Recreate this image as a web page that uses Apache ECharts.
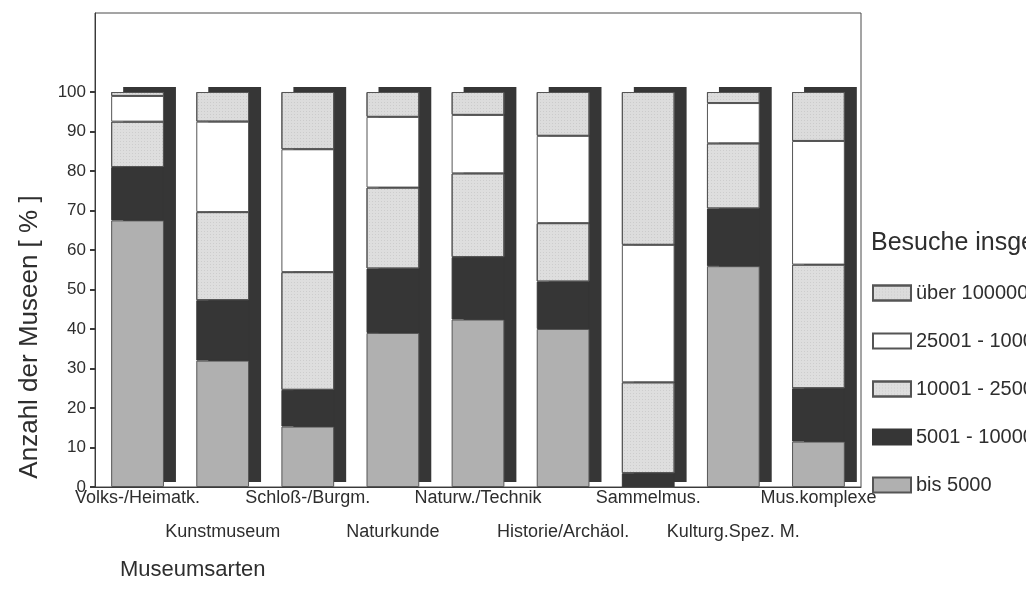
<!DOCTYPE html>
<html>
<head>
<meta charset="utf-8">
<script src="https://cdn.jsdelivr.net/npm/echarts@6/dist/echarts.min.js"></script>
<style>
  html, body { margin: 0; padding: 0; background: #fff; }
  #chart { width: 1026px; height: 605px; }
</style>
</head>
<body>
<div id="chart"></div>
<script>
// Museum types (x axis)
const categories = ['Volks-/Heimatk.', 'Kunstmuseum', 'Schloß-/Burgm.', 'Naturkunde', 'Naturw./Technik',
  'Historie/Archäol.', 'Sammelmus.', 'Kulturg.Spez. M.', 'Mus.komplexe'];

// Share of museums [%] per visitor class, bottom to top of each stack
const bis5000   = [67.5, 32.0, 15.3, 39.0, 42.4, 40.0,  0.0, 55.9, 11.5];
const v5001     = [13.5, 15.3,  9.3, 16.3, 15.8, 12.0,  3.5, 14.6, 13.5];
const v10001    = [11.5, 22.3, 29.8, 20.5, 21.2, 14.8, 23.0, 16.5, 31.3];
const v25001    = [ 6.5, 22.9, 31.1, 17.9, 14.8, 22.1, 34.8, 10.2, 31.3];
const ueber     = [ 1.0,  7.5, 14.5,  6.3,  5.8, 11.1, 38.7,  2.8, 12.4];

const seriesNames = ['bis 5000', '5001 - 10000', '10001 - 25000', '25001 - 100000', 'über 100000'];
const yTicks = [0, 10, 20, 30, 40, 50, 60, 70, 80, 90, 100];

// total height of each stack, used for the offset backdrop block
const totals = categories.map((_, i) => bis5000[i] + v5001[i] + v10001[i] + v25001[i] + ueber[i]);

const FONT = 'Liberation Sans, Arial, Helvetica, sans-serif';
const TXT = '#2e2e2e';
const EDGE = '#555555';
const DARK = '#363636';

// fine stipple used on the two light-grey classes
const stipple = {
  symbol: 'rect',
  symbolSize: 1,
  dashArrayX: [1, 2],
  dashArrayY: [1, 2],
  rotation: 0,
  color: 'rgba(90,90,90,0.13)'
};

const stackStyle = [
  { color: '#b0b0b0' },
  { color: DARK },
  { color: '#dedede', decal: stipple },
  { color: '#ffffff' },
  { color: '#dcdcdc', decal: stipple }
];
const segData = [bis5000, v5001, v10001, v25001, ueber];

const chart = echarts.init(document.getElementById('chart'), null, { renderer: 'canvas' });

const series = [{
  name: 'shadow',
  type: 'custom',
  z: 1,
  silent: true,
  data: totals.map((t, i) => [i, t]),
  renderItem: function (params, api) {
    const i = api.value(0);
    const base = api.coord([i, 0]);
    const top = api.coord([i, api.value(1)]);
    const w = api.size([1, 0])[0] * 0.62;
    const dx = 12, dy = -5;
    return {
      type: 'rect',
      shape: { x: base[0] - w / 2 + dx, y: top[1] + dy, width: w, height: base[1] - top[1] },
      style: { fill: DARK }
    };
  }
}];

segData.forEach((arr, k) => {
  const st = {
    color: stackStyle[k].color,
    borderColor: k === 1 ? DARK : EDGE,
    borderWidth: 1
  };
  if (stackStyle[k].decal) st.decal = stackStyle[k].decal;
  series.push({
    name: seriesNames[k],
    type: 'bar',
    stack: 'all',
    z: 3,
    barWidth: '62%',
    data: arr,
    itemStyle: st,
    emphasis: { disabled: true }
  });
});

chart.setOption({
  animation: false,
  backgroundColor: '#ffffff',
  textStyle: { fontFamily: FONT },
  title: [
    { text: 'Museumsarten', left: 115, top: 554,
      textStyle: { fontFamily: FONT, fontSize: 22, fontWeight: 'normal', color: TXT } },
    { text: 'Besuche insgesamt', left: 866, top: 226,
      textStyle: { fontFamily: FONT, fontSize: 25, fontWeight: 'normal', color: TXT } }
  ],
  graphic: [{
    type: 'text',
    x: 30,
    y: 337,
    rotation: Math.PI / 2,
    style: {
      text: 'Anzahl der Museen [ % ]',
      fontFamily: FONT,
      fontSize: 26,
      fill: TXT,
      align: 'center',
      verticalAlign: 'middle'
    }
  }],
  legend: {
    orient: 'vertical',
    left: 867,
    top: 278,
    itemWidth: 38,
    itemHeight: 15,
    itemGap: 28,
    icon: 'rect',
    data: seriesNames.slice().reverse(),
    textStyle: { fontFamily: FONT, fontSize: 20, color: TXT, lineHeight: 19 },
    selectedMode: false
  },
  grid: {
    left: 95, right: 165, top: 13, bottom: 118,
    show: true, borderColor: '#4a4a4a', borderWidth: 1, backgroundColor: 'transparent'
  },
  xAxis: {
    type: 'category',
    data: categories,
    axisLine: { lineStyle: { color: '#3a3a3a', width: 1 } },
    axisTick: { alignWithLabel: true, length: 4, lineStyle: { color: '#3a3a3a', width: 3 } },
    axisLabel: {
      interval: 0,
      margin: -6,
      lineHeight: 34,
      fontFamily: FONT,
      fontSize: 18,
      color: TXT,
      formatter: (v, idx) => (idx % 2 ? '\n' + v : v)
    }
  },
  yAxis: {
    type: 'value',
    min: 0,
    max: 120,
    interval: 10,
    splitLine: { show: false },
    axisLine: { show: true, lineStyle: { color: '#3a3a3a', width: 1 } },
    axisTick: { show: true, length: 5, customValues: yTicks, lineStyle: { color: '#3a3a3a', width: 2 } },
    axisLabel: { customValues: yTicks, margin: 9, fontFamily: FONT, fontSize: 17, color: TXT }
  },
  series: series
});
</script>
</body>
</html>
